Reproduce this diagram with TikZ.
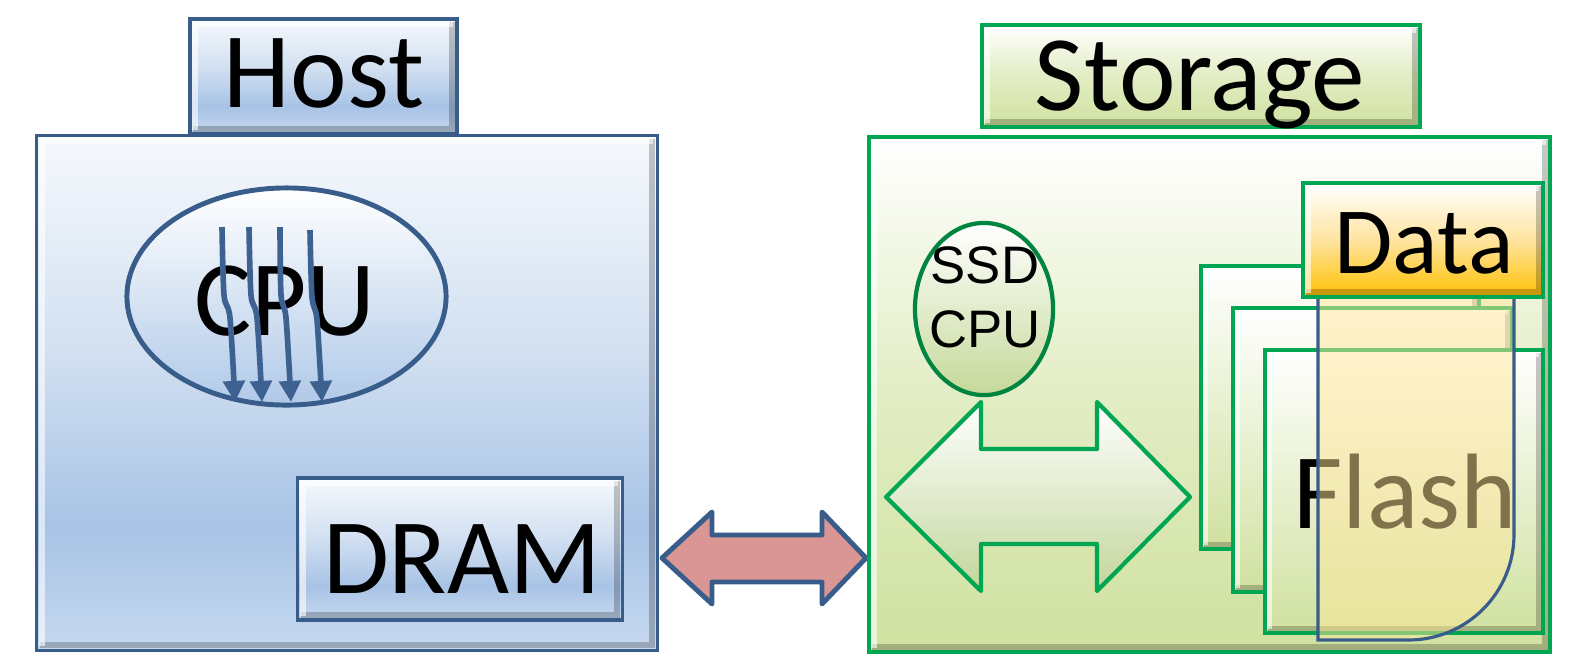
\documentclass[tikz,border=0pt]{standalone}
\usepackage{fontspec}
\setmainfont{Carlito}
\newfontfamily\arialfont{Liberation Sans}
\usetikzlibrary{arrows.meta,shapes.geometric}
\definecolor{hostblue}{RGB}{56,93,138}
\definecolor{hostfill}{RGB}{185,205,229}
\definecolor{hbot}{RGB}{198,216,238}
\definecolor{hband}{RGB}{168,195,230}
\definecolor{hmid}{RGB}{210,224,241}
\definecolor{htop}{RGB}{246,249,253}
\definecolor{grn}{RGB}{0,166,81}
\definecolor{grnfill}{RGB}{208,225,160}
\definecolor{grnmid}{RGB}{226,237,196}
\definecolor{redfill}{RGB}{217,150,148}
\definecolor{orng}{RGB}{255,192,0}
\definecolor{ovl}{RGB}{255,230,153}
\definecolor{arrblue}{RGB}{61,97,144}
\pgfdeclareverticalshading{hostshade}{100bp}{color(0bp)=(hbot); color(25bp)=(hbot); color(37bp)=(hband); color(54bp)=(hmid); color(75bp)=(htop); color(100bp)=(htop)}
\newcommand\bevelbox[1]{%
  \draw[black,opacity=0.22,line width=1.6pt] ([shift={(-1.9pt,-1.4pt)}]#1.north east) -- ([shift={(-1.9pt,1.9pt)}]#1.south east) -- ([shift={(1.4pt,1.9pt)}]#1.south west);
  \draw[white,opacity=0.6,line width=1.6pt] ([shift={(1.9pt,1.6pt)}]#1.south west) -- ([shift={(1.9pt,-1.9pt)}]#1.north west) -- ([shift={(-1.6pt,-1.9pt)}]#1.north east);}
\begin{document}
\begin{tikzpicture}[x=0.01cm,y=-0.01cm,
  hostbox/.style={rectangle,draw=hostblue,line width=0.9pt,shading=hostshade,inner sep=0pt},
  grnbox/.style={rectangle,draw=grn,line width=1.0pt,top color=white,bottom color=grnfill,middle color=grnmid,inner sep=0pt},
  cardbox/.style={rectangle,draw=grn,line width=1.1pt,top color=white,bottom color=grnfill,inner sep=0pt},
  bigtxt/.style={font=\fontsize{30.5pt}{36pt}\selectfont,anchor=base,inner sep=0pt},
  cpuarrow/.style={draw=arrblue,line width=1.6pt,-{Triangle[width=6pt,length=6pt]}}]
\useasboundingbox (0,0) rectangle (1572,657);
% ---------- Host ----------
\node[hostbox,minimum width=6.20cm,minimum height=5.14cm] (host) at (347,393) {};
\bevelbox{host}
\node[hostbox,minimum width=2.67cm,minimum height=1.15cm] (hostlabel) at (323.5,76.5) {};
\bevelbox{hostlabel}
\node[bigtxt] (hosttxt) at (324,107) {Host};
\node[ellipse,draw=hostblue,line width=1.4pt,top color=white,bottom color={rgb,255:red,176;green,201;blue,232},
  minimum width=3.19cm,minimum height=2.17cm,inner sep=0pt] (cpu) at (286.5,296.5) {};
\node[bigtxt] (cputxt) at (285,335) {CPU};
\draw[cpuarrow] plot[smooth,tension=0.5] coordinates {(222,227) (224,295) (230,318) (235,402)};
\draw[cpuarrow] plot[smooth,tension=0.5] coordinates {(249,227) (251,295) (257,318) (262,402)};
\draw[cpuarrow] plot[smooth,tension=0.5] coordinates {(280,227) (281,295) (286,318) (291,402)};
\draw[cpuarrow] plot[smooth,tension=0.5] coordinates {(310,230) (312,297) (317,320) (322,402)};
\node[hostbox,minimum width=3.24cm,minimum height=1.42cm] (dram) at (460,549) {};
\bevelbox{dram}
\node[bigtxt] (dramtxt) at (462,593) {DRAM};
% ---------- link arrow ----------
\draw[draw=hostblue,fill=redfill,line width=1.4pt,line join=round]
  (662,558) -- (712,512) -- (712,535) -- (822,535) -- (822,512) -- (866,558)
  -- (822,604) -- (822,582) -- (712,582) -- (712,604) -- cycle;
% ---------- Storage ----------
\node[grnbox,minimum width=6.81cm,minimum height=5.15cm] (storage) at (1209.5,394.5) {};
\bevelbox{storage}
\node[grnbox,minimum width=4.38cm,minimum height=1.02cm] (storagelabel) at (1201,76) {};
\bevelbox{storagelabel}
\node[bigtxt] (storagetxt) at (1200,110) {Storage};
\node[ellipse,draw=grn!80!black,line width=1.2pt,top color=white,bottom color={rgb,255:red,197;green,217;blue,154},
  minimum width=1.38cm,minimum height=1.72cm,inner sep=0pt] (ssdcpu) at (984,309) {};
\node[font=\arialfont\fontsize{15pt}{17.6pt}\selectfont,anchor=base,inner sep=0pt] (ssdtxt) at (985,283) {SSD};
\node[font=\arialfont\fontsize{15pt}{17.6pt}\selectfont,anchor=base,inner sep=0pt] (ssdcputxt) at (985,347) {CPU};
\shade[top color=white,bottom color={rgb,255:red,195;green,214;blue,155}]
  (886,497) -- (981,402) -- (981,449) -- (1097,449) -- (1097,402) -- (1190,497)
  -- (1097,591) -- (1097,544) -- (981,544) -- (981,591) -- cycle;
\draw[draw=grn,line width=1.2pt,line join=round]
  (886,497) -- (981,402) -- (981,449) -- (1097,449) -- (1097,402) -- (1190,497)
  -- (1097,591) -- (1097,544) -- (981,544) -- (981,591) -- cycle;
\node[cardbox,minimum width=2.78cm,minimum height=2.83cm] (card1) at (1340,407.5) {};
\bevelbox{card1}
\node[cardbox,minimum width=2.79cm,minimum height=2.84cm] (card2) at (1372.5,450) {};
\bevelbox{card2}
\node[cardbox,minimum width=2.78cm,minimum height=2.83cm] (card3) at (1404,491.5) {};
\bevelbox{card3}
\node[bigtxt] (flashtxt) at (1405,528) {Flash};
\fill[ovl,fill opacity=0.5] (1318,290) -- (1318,640) [rounded corners=30] -- (1514,640) [sharp corners] -- (1514,290) -- cycle;
\draw[hostblue,line width=0.9pt] (1318,290) -- (1318,640) [rounded corners=30] -- (1514,640) [sharp corners] -- (1514,290);
\node[rectangle,draw=grn,line width=1.1pt,top color=white,bottom color=orng,middle color={rgb,255:red,255;green,228;blue,160},
  minimum width=2.40cm,minimum height=1.14cm,inner sep=0pt] (data) at (1423,240) {};
\bevelbox{data}
\node[font=\fontsize{27pt}{32pt}\selectfont,anchor=base,inner sep=0pt] (datatxt) at (1424,273) {Data};
\end{tikzpicture}
\end{document}
